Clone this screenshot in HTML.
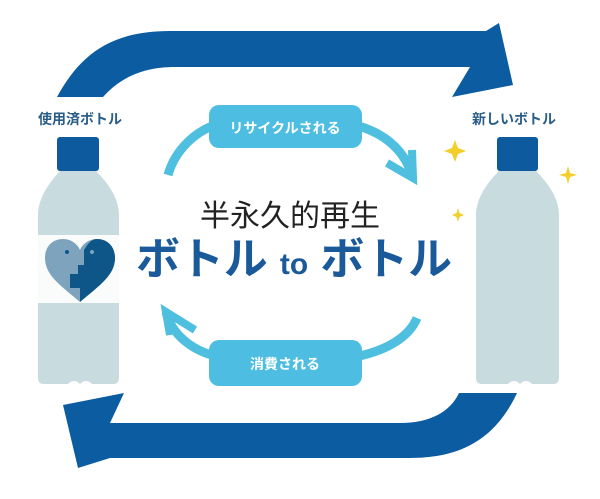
<!DOCTYPE html>
<html><head><meta charset="utf-8"><style>
html,body{margin:0;padding:0;background:#fff;width:600px;height:499px;overflow:hidden}
svg{display:block}
text{font-family:"Liberation Sans","Noto Sans CJK JP",sans-serif}
</style></head><body>
<svg width="600" height="499" viewBox="0 0 600 499" xmlns="http://www.w3.org/2000/svg">
<!-- top big arrow -->
<path d="M57,97 C80,55 110,31 170,31 L486,31 L499,23 L513,85 L452,97 L470,67 L175,67 C140,67 118,80 103,97 Z" fill="#0b5ca0"/>
<!-- bottom big arrow -->
<path d="M517,393 C495,440 460,458 410,458 L110,458 L78,468 L63,405 L124,393 L110,423 L400,423 C430,423 450,412 459,393 Z" fill="#0b5ca0"/>
<!-- labels -->
<text x="80" y="124" font-size="14" font-weight="bold" fill="#2a5d87" text-anchor="middle">使用済ボトル</text>
<text x="514" y="124" font-size="14" font-weight="bold" fill="#2a5d87" text-anchor="middle">新しいボトル</text>
<!-- bottles -->
<rect x="57" y="137" width="42" height="34" rx="3" fill="#0d5a9e"/>
<path d="M60,171 L96,171 C110,185 119,200 119,215 L119,378 Q119,384 113,384 L92,384 Q86,378 80,384 Q74,378 68,384 L44,384 Q38,384 38,378 L38,215 C38,200 47,185 60,171 Z" fill="#c8dcdf"/>
<rect x="38" y="235" width="81" height="68" fill="#fafcfc"/>
<path d="M80,302 C60,285 45,275 45,258 C45,246 53,239 63,239 C72,239 78,245 80,250 C82,245 88,239 97,239 C107,239 115,246 115,258 C115,275 100,285 80,302 Z" fill="#7ea4bd"/>
<path d="M80,302 L80,288 L70,288 L70,274 L78,274 L78,265 L84,265 L84,250 C88,243 92,239 97,239 C107,239 115,246 115,258 C115,275 100,285 80,302 Z" fill="#0f5688"/>
<circle cx="67" cy="252" r="2" fill="#0f5688"/><circle cx="92" cy="252" r="2" fill="#7ea4bd"/>
<rect x="497" y="137" width="41" height="34" rx="3" fill="#0d5a9e"/>
<path d="M499,171 L536,171 C550,185 559,200 559,215 L559,378 Q559,384 553,384 L532,384 Q526,378 520,384 Q514,378 508,384 L482,384 Q476,384 476,378 L476,215 C476,200 485,185 499,171 Z" fill="#c8dcdf"/>
<!-- sparkles -->
<path d="M455,140 L458,148 L466,151 L458,154 L455,162 L452,154 L444,151 L452,148 Z" fill="#f2cf2a"/>
<path d="M568,166 L570,173 L577,175 L570,177 L568,184 L566,177 L559,175 L566,173 Z" fill="#f2cf2a"/>
<path d="M458,208 L459.5,213 L464,215 L459.5,217 L458,222 L456.5,217 L452,215 L456.5,213 Z" fill="#f2cf2a"/>
<!-- small arcs -->
<path d="M168,175 C175,150 195,132 215,125" stroke="#4fbfe0" stroke-width="9" fill="none"/>
<path d="M355,125 C385,133 405,150 413,178" stroke="#4fbfe0" stroke-width="9" fill="none"/>
<path d="M387,163 L413,178 L412,150" stroke="#4fbfe0" stroke-width="8" fill="none" stroke-linejoin="miter"/>
<rect x="209" y="105" width="153" height="43" rx="10" fill="#4dbde2"/>
<text x="285" y="133" font-size="14" font-weight="bold" fill="#fff" text-anchor="middle">リサイクルされる</text>
<path d="M166,312 C172,335 192,350 215,356" stroke="#4fbfe0" stroke-width="9" fill="none"/>
<path d="M355,357 C390,350 410,335 417,318" stroke="#4fbfe0" stroke-width="9" fill="none"/>
<path d="M195,330 L166,312 L170,335" stroke="#4fbfe0" stroke-width="8" fill="none"/>
<rect x="209" y="340" width="153" height="46" rx="10" fill="#4dbde2"/>
<text x="285" y="369" font-size="14" font-weight="bold" fill="#fff" text-anchor="middle">消費される</text>
<!-- center text -->
<text x="290" y="226" font-size="30" fill="#222" text-anchor="middle">半永久的再生</text>
<text x="294" y="274" font-size="44" font-weight="bold" fill="#1a5a9a" text-anchor="middle" textLength="316" lengthAdjust="spacingAndGlyphs">ボトル <tspan font-size="30">to</tspan> ボトル</text>
</svg>
</body></html>
